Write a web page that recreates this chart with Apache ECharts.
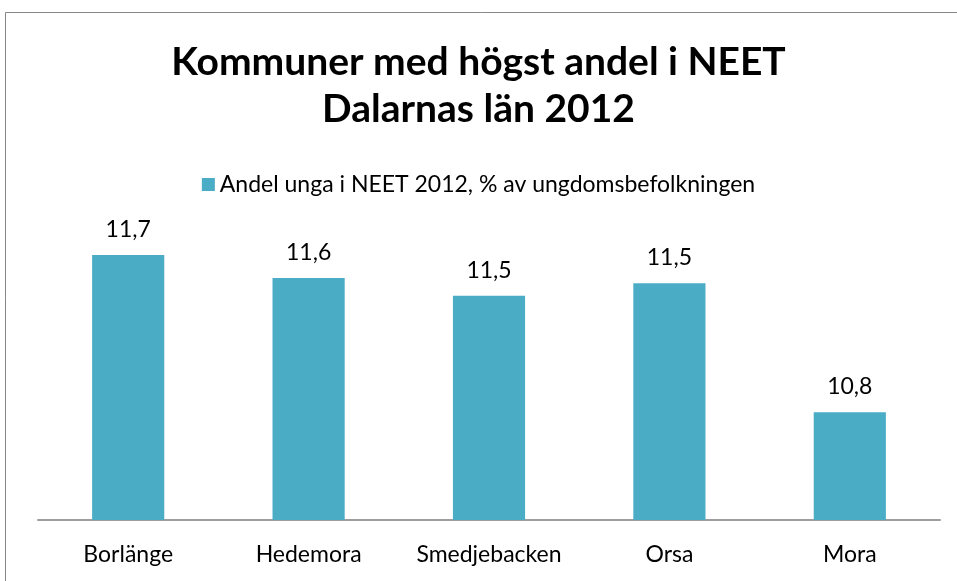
<!DOCTYPE html>
<html>
<head>
<meta charset="utf-8">
<script src="https://cdn.jsdelivr.net/npm/echarts@6/dist/echarts.min.js"></script>
<style>
  html, body { margin: 0; padding: 0; background: #fff; }
  #chart { width: 957px; height: 581px; }
</style>
</head>
<body>
<div id="chart"></div>
<script>
// Kommuner med högst andel i NEET, Dalarnas län 2012
const kommuner = ['Borlänge', 'Hedemora', 'Smedjebacken', 'Orsa', 'Mora'];
const andelNeet = [11.70, 11.57, 11.47, 11.54, 10.81];
const seriesName = 'Andel unga i NEET 2012, % av ungdomsbefolkningen';

const font = 'Lato, "Open Sans", sans-serif';
const chart = echarts.init(document.getElementById('chart'), null, { renderer: 'canvas' });

chart.setOption({
    backgroundColor: '#fff',
    animation: false,
    title: {
        text: 'Kommuner med högst andel i NEET\nDalarnas län 2012',
        left: 'center', top: 34,
        textStyle: { fontFamily: font, fontSize: 39, fontWeight: 'bold', color: '#000', lineHeight: 47 }
    },
    legend: {
        top: 168, left: 'center',
        icon: 'rect', itemWidth: 13, itemHeight: 13, itemGap: 6,
        textStyle: { fontFamily: font, fontSize: 23, color: '#000' },
        data: [seriesName]
    },
    graphic: [{
        type: 'rect', silent: true,
        shape: { x: 5.5, y: 12.5, width: 1000, height: 700 },
        style: { fill: 'none', stroke: '#878787', lineWidth: 1 }
    }],
    grid: { left: 38, right: 17, top: 202, bottom: 61 },
    xAxis: {
        type: 'category',
        data: kommuner,
        axisLine: { lineStyle: { color: '#9e9e9e', width: 2 } },
        axisTick: { show: false },
        axisLabel: { interval: 0, hideOverlap: false, fontFamily: font, fontSize: 23, color: '#000', margin: 23 }
    },
    yAxis: {
        type: 'value', min: 10.2, max: 12,
        show: false,
        splitLine: { show: false }
    },
    series: [{
        name: seriesName,
        type: 'bar',
        data: andelNeet,
        barCategoryGap: '60%',
        itemStyle: { color: '#4BACC6' },
        label: {
            show: true, position: 'top', distance: 14,
            fontFamily: font, fontSize: 23, color: '#000',
            formatter: p => p.value.toFixed(1).replace('.', ',')
        }
    }]
});
</script>
</body>
</html>
